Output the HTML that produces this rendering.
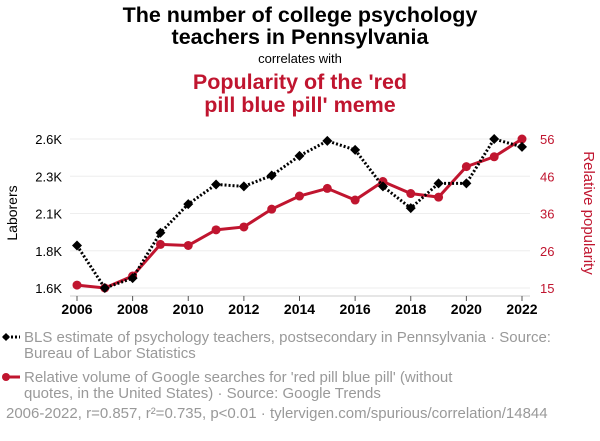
<!DOCTYPE html>
<html><head><meta charset="utf-8"><style>
body{margin:0;width:600px;height:436px;background:#fff;font-family:"Liberation Sans",sans-serif;overflow:hidden}
</style></head><body>
<svg width="600" height="436" style="font-family:'Liberation Sans',sans-serif">
<text x="300" y="22" text-anchor="middle" font-size="21.5" font-weight="bold">The number of college psychology</text>
<text x="300" y="44" text-anchor="middle" font-size="21.5" font-weight="bold">teachers in Pennsylvania</text>
<text x="300" y="63" text-anchor="middle" font-size="13">correlates with</text>
<text x="300" y="89" text-anchor="middle" font-size="21.5" font-weight="bold" fill="#c0152f">Popularity of the 'red</text>
<text x="300" y="112" text-anchor="middle" font-size="21.5" font-weight="bold" fill="#c0152f">pill blue pill' meme</text>
<text transform="translate(17,213) rotate(-90)" text-anchor="middle" font-size="14">Laborers</text>
<text transform="translate(584,213) rotate(90)" text-anchor="middle" font-size="15" fill="#c0152f">Relative popularity</text>
<g id="grid"></g><g id="axes"></g><g id="series"></g>
<g font-size="15" fill="#999">
<line x1="3" y1="337" x2="20" y2="337" stroke="#000" stroke-width="3" stroke-dasharray="2,2"/>
<path d="M6 333 L10 337 L6 341 L2 337Z" fill="#000"/>
<text x="24" y="342">BLS estimate of psychology teachers, postsecondary in Pennsylvania · Source:</text>
<text x="24" y="358">Bureau of Labor Statistics</text>
<line x1="3" y1="377" x2="20" y2="377" stroke="#c0152f" stroke-width="3"/>
<circle cx="6" cy="377" r="4" fill="#c0152f"/>
<text x="24" y="382">Relative volume of Google searches for 'red pill blue pill' (without</text>
<text x="24" y="398">quotes, in the United States) · Source: Google Trends</text>
<text x="6" y="418">2006-2022, r=0.857, r²=0.735, p&lt;0.01 · tylervigen.com/spurious/correlation/14844</text>
</g>
</svg>
<script>
const years=[2006,2007,2008,2009,2010,2011,2012,2013,2014,2015,2016,2017,2018,2019,2020,2021,2022];
const laborers=[1885,1600,1666,1971,2163,2295,2282,2355,2487,2587,2527,2282,2136,2302,2302,2600,2547];
const popularity=[15.8,15,18.3,27,26.7,31,31.8,36.7,40.3,42.4,39.2,44.3,41,40,48.4,51.1,56];
const leftTicks=["1.6K","1.8K","2.1K","2.3K","2.6K"];
const rightTicks=["15","26","36","46","56"];
const xTicks=[2006,2008,2010,2012,2014,2016,2018,2020,2022];
const NS="http://www.w3.org/2000/svg";
const x=v=>77+(v-2006)*(522-77)/16;
const yL=v=>288-(v-1600)*(288-139)/1000;
const yR=v=>288-(v-15)*(288-139)/41;
function mk(tag,a,parent){const e=document.createElementNS(NS,tag);for(const k in a)e.setAttribute(k,a[k]);document.getElementById(parent).appendChild(e);return e;}
leftTicks.forEach((t,i)=>{const y=288-i*(288-139)/4;
 const g=mk('line',{x1:70,x2:530,y1:y,y2:y,stroke:'#eee'},'grid');
 
 
 const a=mk('text',{x:62,y:y+5,'text-anchor':'end','font-size':13},'axes');a.textContent=t;
 
 
 const b=mk('text',{x:540,y:y+5,'font-size':13,fill:'#c0152f'},'axes');b.textContent=rightTicks[i];
 
 
});
mk('line',{x1:70,x2:530,y1:296,y2:296,stroke:'#ccc'},'axes');
xTicks.forEach(v=>{mk('line',{x1:x(v),x2:x(v),y1:296,y2:301,stroke:'#555'},'axes');
 const t=mk('text',{x:x(v),y:314,'text-anchor':'middle','font-size':14,'font-weight':'bold'},'axes');t.textContent=v;
 
 
});
const rp=mk('polyline',{points:years.map((v,i)=>x(v)+','+yR(popularity[i])).join(' '),fill:'none',stroke:'#c0152f','stroke-width':3},'series');


years.forEach((v,i)=>{const c=mk('circle',{cx:x(v),cy:yR(popularity[i]),r:4.5,fill:'#c0152f'},'series');
 
 });
const bp=mk('polyline',{points:years.map((v,i)=>x(v)+','+yL(laborers[i])).join(' '),fill:'none',stroke:'#000','stroke-width':3,'stroke-dasharray':'2,2'},'series');


years.forEach((v,i)=>{const cx=x(v),cy=yL(laborers[i]);
 const p=mk('path',{d:`M${cx} ${cy-5}L${cx+5} ${cy}L${cx} ${cy+5}L${cx-5} ${cy}Z`,fill:'#000'},'series');
 
 });
</script>
</body></html>
